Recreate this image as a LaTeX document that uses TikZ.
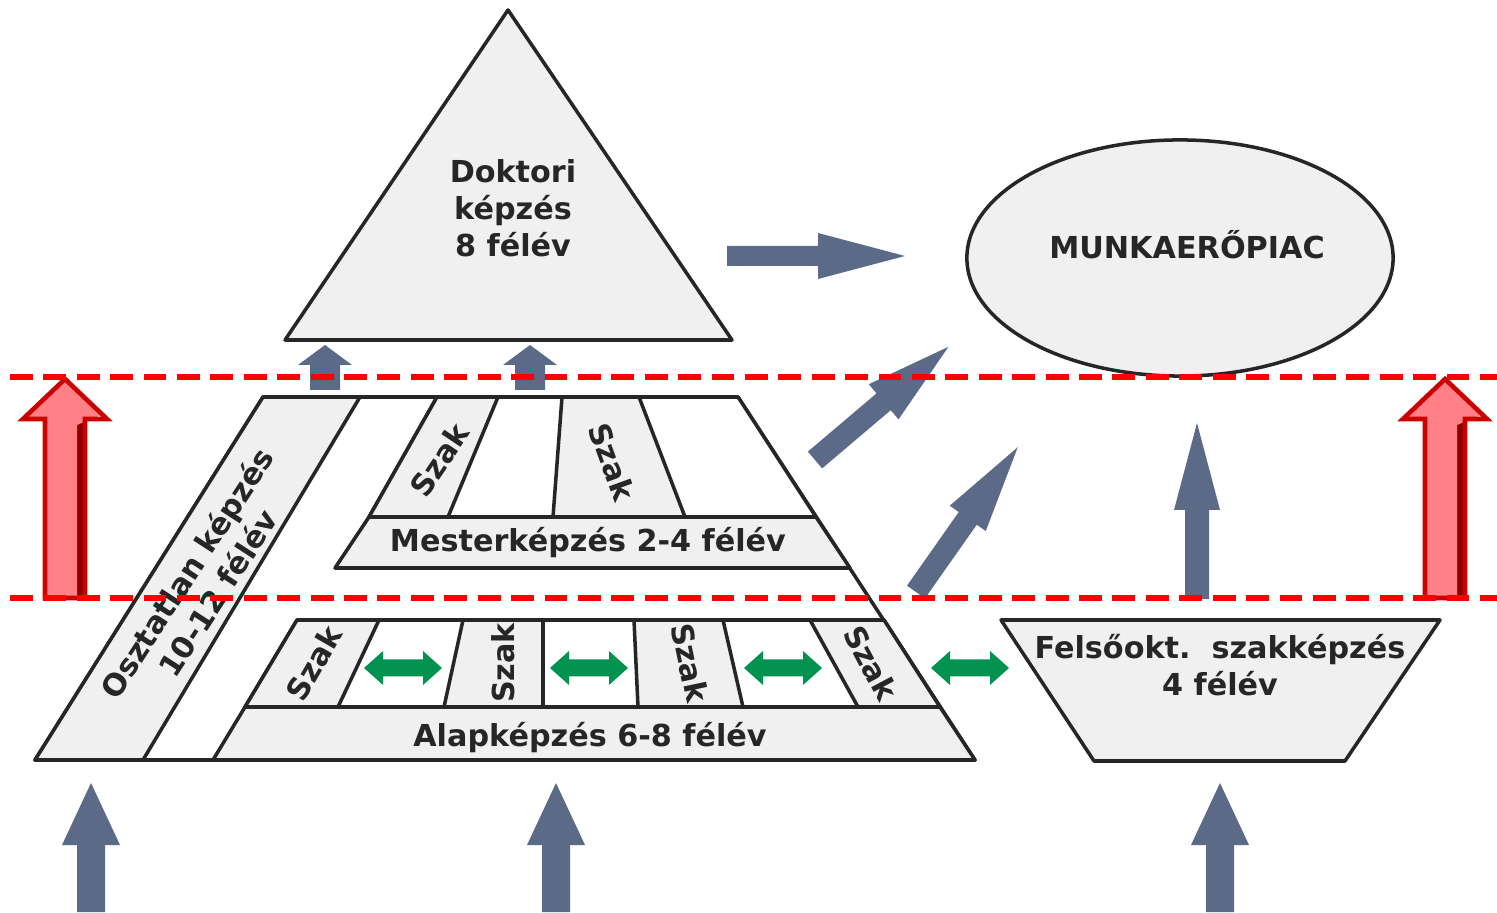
\documentclass[tikz,border=0pt]{standalone}
\usepackage{fontspec}
\setmainfont{DejaVu Sans}

\definecolor{boxgray}{RGB}{240,240,240}
\definecolor{arrowgray}{RGB}{90,106,135}
\definecolor{szakgreen}{RGB}{0,146,78}
\definecolor{pinkfill}{RGB}{255,128,134}
\definecolor{darkred}{RGB}{205,0,0}
\definecolor{bevelred}{RGB}{140,0,0}

\tikzset{
  outline/.style={draw=black!85, line width=1pt, fill=boxgray, line join=round},
  frame/.style={draw=black!85, line width=1pt, fill=white, line join=round},
  txt/.style={font=\fontsize{8.6}{10.5}\selectfont\bfseries, text=black!85, align=center, inner sep=0pt},
  cut/.style={draw=red, line width=1.8pt, dash pattern=on 6.5pt off 3pt},
}

% gray block arrow: tail x, tail y, angle, length, shaft half, head half, head length
\newcommand{\grayarrow}[7]{%
  \fill[arrowgray, shift={(#1,#2)}, rotate=#3]
    (0,-#5) -- (#4-#7,-#5) -- (#4-#7,-#6) -- (#4,0) -- (#4-#7,#6) -- (#4-#7,#5) -- (0,#5) -- cycle;}

% green double arrow between the szak columns
\newcommand{\greenarrow}[2]{%
  \fill[szakgreen, shift={(#1,#2)}]
    (-39,0) -- (-20,-17) -- (-20,-8.5) -- (20,-8.5) -- (20,-17) -- (39,0)
    -- (20,17) -- (20,8.5) -- (-20,8.5) -- (-20,17) -- cycle;}

% red arrow between the dashed lines
\newcommand{\redarrow}[1]{%
  \fill[bevelred] (#1+12,425) -- (#1+20,419) -- (#1+20,598) -- (#1+12,598) -- cycle;
  \fill[pinkfill] (#1-20,598) -- (#1-20,419) -- (#1-42,419) -- (#1,379) -- (#1+36,415) -- (#1+12,425) -- (#1+12,598) -- cycle;
  \draw[darkred, line width=1.3pt, line join=miter]
    (#1-20,598) -- (#1-20,419) -- (#1-42,419) -- (#1,379) -- (#1+42,419) -- (#1+20,419) -- (#1+20,598) -- cycle;}

\begin{document}
\begin{tikzpicture}[x=0.01cm, y=-0.01cm]
\useasboundingbox (0,0) rectangle (1497,913);

% gray arrows
\grayarrow{727}{256}{0}{178}{10}{23}{87}
\grayarrow{815}{460}{40.3}{175}{11}{23}{85}
\grayarrow{916}{592}{54.9}{177}{11}{22}{87}
\grayarrow{1197}{599}{90}{176}{12}{23}{87}
\grayarrow{325}{390}{90}{45}{15}{27}{20}
\grayarrow{530}{390}{90}{45}{15}{27}{20}
\grayarrow{588}{617}{90}{45}{15}{27}{20}
\foreach \x in {91,556,1220}
  \grayarrow{\x}{912}{90}{129}{14}{29}{62};

% doktori triangle
\draw[outline] (508,10) -- (732,340) -- (285,340) -- cycle;

% munkaeropiac
\draw[outline] (1180,258) ellipse [x radius=2.13cm, y radius=1.18cm];

% outer frame of the pyramid
\draw[frame] (263,397) -- (738,397) -- (975,760) -- (35,760) -- cycle;

% osztatlan strip
\draw[outline] (263,397) -- (360,397) -- (143,760) -- (35,760) -- cycle;

% mester block
\draw[frame] (437,397) -- (738,397) -- (816,517) -- (369,517) -- cycle;
\draw[outline] (437,397) -- (498,397) -- (448,517) -- (369,517) -- cycle;
\draw[outline] (562,397) -- (639,397) -- (685,517) -- (553,517) -- cycle;
\draw[outline] (369,517) -- (816,517) -- (850,568) -- (335,568) -- cycle;

% alap block
\draw[frame] (297,620) -- (884,620) -- (940,707) -- (245,707) -- cycle;
\draw[outline] (297,620) -- (379,620) -- (338,707) -- (245,707) -- cycle;
\draw[outline] (463,620) -- (543,620) -- (543,707) -- (444,707) -- cycle;
\draw[outline] (634,620) -- (723,620) -- (743,707) -- (638,707) -- cycle;
\draw[outline] (810,620) -- (884,620) -- (940,707) -- (858,707) -- cycle;
\draw[outline] (245,707) -- (940,707) -- (975,760) -- (213,760) -- cycle;

% felsooktatasi szakkepzes
\draw[outline] (1001,620) -- (1440,620) -- (1345,761) -- (1094,761) -- cycle;

% green arrows
\foreach \x in {403,589,783,970}
  \greenarrow{\x}{668};

% texts
\node[txt] (doktori) at (513,208) {Doktori\\képzés\\8 félév};
\node[txt] (piac) at (1187,245) {MUNKAERŐPIAC};
\node[txt, rotate=57] (osztatlan) at (202,583) {Osztatlan képzés\\10-12 félév};
\node[txt] (mester) at (588,543) {Mesterképzés 2-4 félév};
\node[txt] (alap) at (590,738) {Alapképzés 6-8 félév};
\node[txt] (felso) at (1220,665) {Felsőokt.\ \ szakképzés\\4 félév};

\node[txt, rotate=56] (mszak1) at (439,460) {Szak};
\node[txt, rotate=-70] (mszak2) at (612,462) {Szak};
\node[txt, rotate=60] (aszak1) at (314,663) {Szak};
\node[txt, rotate=90] (aszak2) at (503,663) {Szak};
\node[txt, rotate=-78] (aszak3) at (690,663) {Szak};
\node[txt, rotate=-62] (aszak4) at (871,663) {Szak};

% red arrows
\redarrow{65}
\redarrow{1445}

% dashed limits
\draw[cut] (10,377) -- (1497,377);
\draw[cut] (10,598) -- (1497,598);

\end{tikzpicture}
\end{document}
